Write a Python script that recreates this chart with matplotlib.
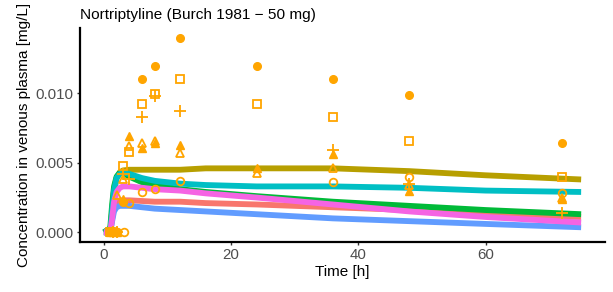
import numpy as np
import matplotlib
matplotlib.use("Agg")
import matplotlib.pyplot as plt

plt.rcParams['font.family'] = ['Liberation Sans', 'DejaVu Sans']

# ---- simulated curves (time [h], concentration [mg/L]) ----
sim_t = [0, 1.0, 1.3, 1.6, 2.0, 2.5, 3, 4, 6, 8, 12, 16, 24, 36, 48, 60, 75]
sim_red   = [0, 0, 0.0010, 0.0018, 0.0022, 0.0023, 0.0023, 0.0023, 0.00225, 0.0022, 0.0022, 0.0021, 0.0020, 0.0018, 0.0016, 0.0013, 0.0011]
sim_olive = [0, 0, 0.0015, 0.0030, 0.0039, 0.0043, 0.00445, 0.0045, 0.0045, 0.0045, 0.0045, 0.0046, 0.0046, 0.0046, 0.0044, 0.0041, 0.0038]
sim_green = [0, 0.0003, 0.0020, 0.0033, 0.0040, 0.0043, 0.0043, 0.0040, 0.0036, 0.0034, 0.0031, 0.0029, 0.0026, 0.0022, 0.0019, 0.0016, 0.0013]
sim_cyan  = [0, 0, 0.0015, 0.0030, 0.0039, 0.0042, 0.0043, 0.0042, 0.0039, 0.0037, 0.0035, 0.0034, 0.0033, 0.0033, 0.0032, 0.0030, 0.0029]
sim_blue  = [0, 0, 0.0008, 0.0015, 0.0018, 0.0019, 0.0019, 0.0019, 0.0018, 0.0017, 0.0016, 0.0015, 0.0013, 0.0010, 0.0008, 0.0006, 0.00036]
sim_pink  = [0, 0, 0.0010, 0.0022, 0.0029, 0.0032, 0.0033, 0.0033, 0.0032, 0.0031, 0.0030, 0.0028, 0.0025, 0.0020, 0.0015, 0.0011, 0.0007]

sim_series = [sim_red, sim_olive, sim_green, sim_cyan, sim_blue, sim_pink]
sim_colors = ['#F8766D', '#B79F00', '#00BA38', '#00BFC4', '#619CFF', '#F564E3']

# ---- observed data (one list per subject) ----
obs_fc_t = [1, 2, 3, 6, 8, 12, 24, 36, 48, 72]
obs_fc_v = [0, 0, 0.0022, 0.0110, 0.0120, 0.0140, 0.0120, 0.0110, 0.0099, 0.0064]

obs_sq_t = [1, 1.5, 3, 4, 6, 8, 12, 24, 36, 48, 72]
obs_sq_v = [0, 0, 0.0048, 0.0058, 0.0092, 0.00995, 0.0110, 0.0092, 0.0083, 0.0066, 0.0040]

obs_plus_t = [1.5, 2, 3, 4, 6, 8, 12, 36, 48, 72]
obs_plus_v = [0, 0, 0.0042, 0.0038, 0.0083, 0.0098, 0.0087, 0.0059, 0.0035, 0.00136]

obs_ftri_t = [1, 2, 3, 4, 6, 8, 12, 24, 36, 48, 72]
obs_ftri_v = [0, 0, 0.0024, 0.0069, 0.0061, 0.0064, 0.0063, 0.0046, 0.0056, 0.0030, 0.0024]

obs_otri_t = [1.5, 2, 3, 4, 6, 8, 12, 24, 36, 48, 72]
obs_otri_v = [0, 0.0027, 0.0038, 0.0062, 0.0064, 0.0066, 0.0057, 0.0043, 0.0046, 0.0034, 0.0025]

obs_oc_t = [1, 2, 3.2, 4, 6, 8, 12, 36, 48, 72]
obs_oc_v = [0, 0, 0, 0.0021, 0.0029, 0.0031, 0.0037, 0.0036, 0.0040, 0.0028]

fig = plt.figure(figsize=(6.13, 2.92), dpi=100)
ax = fig.add_axes([80/613, 1-242/292, (605-80)/613, (242-28)/292])

for vals, col in zip(sim_series, sim_colors):
    ax.plot(sim_t, vals, color=col, lw=4.2, solid_capstyle='butt', zorder=2)

orange = '#FFA500'
ms = 5.5
mew = 1.3
ax.plot(obs_fc_t, obs_fc_v, ls='none', marker='o', ms=ms, color=orange, zorder=3)
ax.plot(obs_sq_t, obs_sq_v, ls='none', marker='s', ms=ms, mfc='none', mec=orange, mew=mew, zorder=3)
ax.plot(obs_plus_t, obs_plus_v, ls='none', marker='+', ms=ms + 3, mec=orange, mew=mew, zorder=3)
ax.plot(obs_otri_t, obs_otri_v, ls='none', marker='^', ms=ms + 0.5, mfc='none', mec=orange, mew=mew, zorder=3)
ax.plot(obs_ftri_t, obs_ftri_v, ls='none', marker='^', ms=ms + 0.5, color=orange, zorder=3)
ax.plot(obs_oc_t, obs_oc_v, ls='none', marker='o', ms=ms, mfc='none', mec=orange, mew=mew, zorder=3)

ax.set_xlim(-3.75, 78.75)
ax.set_ylim(-0.0007, 0.0147)
ax.set_xticks([0, 20, 40, 60])
ax.set_yticks([0.0, 0.005, 0.010])
ax.set_yticklabels(['0.000', '0.005', '0.010'])

for s in ['top', 'right']:
    ax.spines[s].set_visible(False)
for s in ['left', 'bottom']:
    ax.spines[s].set_linewidth(1.6)
    ax.spines[s].set_color('black')

ax.tick_params(axis='both', colors='#333333', labelcolor='#4D4D4D', labelsize=10.8,
               length=2.5, width=1.0, pad=2)

ax.set_xlabel('Time [h]', fontsize=11, color='black', labelpad=2)
ax.set_ylabel('Concentration in venous plasma [mg/L]', fontsize=11, color='black', labelpad=3)
fig.text(80/613, 1-19/292, 'Nortriptyline (Burch 1981 \u2212 50 mg)', fontsize=11.1,
         color='black', ha='left', va='baseline')

fig.savefig('out.png', dpi=100)
